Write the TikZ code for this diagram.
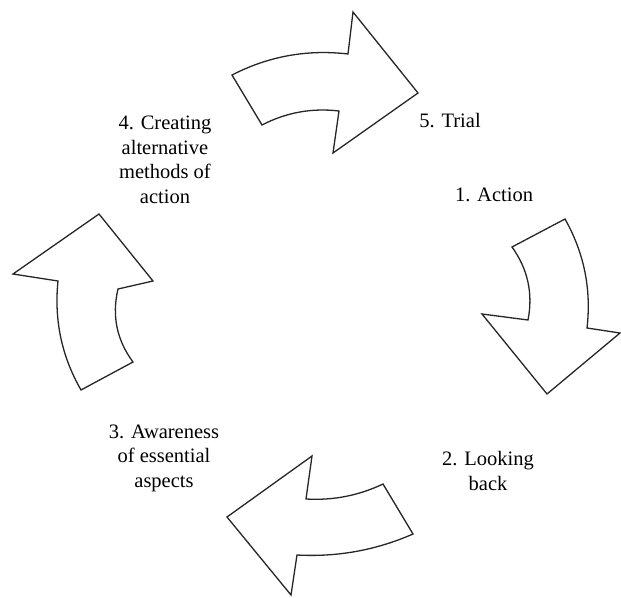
\documentclass[tikz,border=0pt]{standalone}
\usepackage{fontspec}
\setmainfont{Liberation Serif}
\tikzset{
  blockarrow/.style={draw=black!85, line width=1.3pt, fill=white, line join=miter},
  steplabel/.style={align=center, inner sep=0pt, font=\fontsize{20.5}{24.5}\selectfont}
}

\begin{document}
\begin{tikzpicture}[x=1pt, y=-1pt]
			%%%%% START %%%%%
			\useasboundingbox (0, 0) rectangle (621, 597);
			
			% top arrow, towards 5
			\draw[blockarrow] (232, 75) .. controls (268.6, 56.2) and (307.2, 49.2) .. (348, 54) -- (353, 12) -- (418, 93)
				-- (333, 153) -- (339, 111) .. controls (311.9, 107.8) and (286.3, 112.4) .. (262, 125) -- cycle;
			
			% right arrow, towards 2
			\draw[blockarrow] (565, 219) .. controls (584.1, 252.9) and (591.5, 289.3) .. (587, 328) -- (620, 333) -- (547, 394)
				-- (482, 314) -- (528, 320) .. controls (533.2, 293.4) and (527.8, 269) .. (512, 247) -- cycle;
			
			% bottom arrow, towards 3
			\draw[blockarrow] (413, 534) .. controls (376, 550.2) and (337.4, 557.2) .. (297, 555) -- (291, 595) -- (227, 517)
				-- (312, 456) -- (306, 499) .. controls (333, 500.6) and (358.6, 495.6) .. (383, 484) -- cycle;
			
			% left arrow, towards 4
			\draw[blockarrow] (81, 390) .. controls (61.6, 356.2) and (54, 319.8) .. (58, 281) -- (13, 274) -- (99, 214)
				-- (153, 281) -- (118, 289) .. controls (111.7, 315.6) and (116.7, 340) .. (133, 362) -- cycle;
			
			% labels
			\node[steplabel] (trial) at (450, 121) {5. Trial};
			\node[steplabel] (action) at (494, 195) {1. Action};
			\node[steplabel] (looking) at (488, 471) {2. Looking\\back};
			\node[steplabel] (awareness) at (164, 458) {3. Awareness\\of essential\\aspects};
			\node[steplabel] (creating) at (165, 160) {4. Creating\\alternative\\methods of\\action};
			
			%%%%% END %%%%%
\end{tikzpicture}
\end{document}
